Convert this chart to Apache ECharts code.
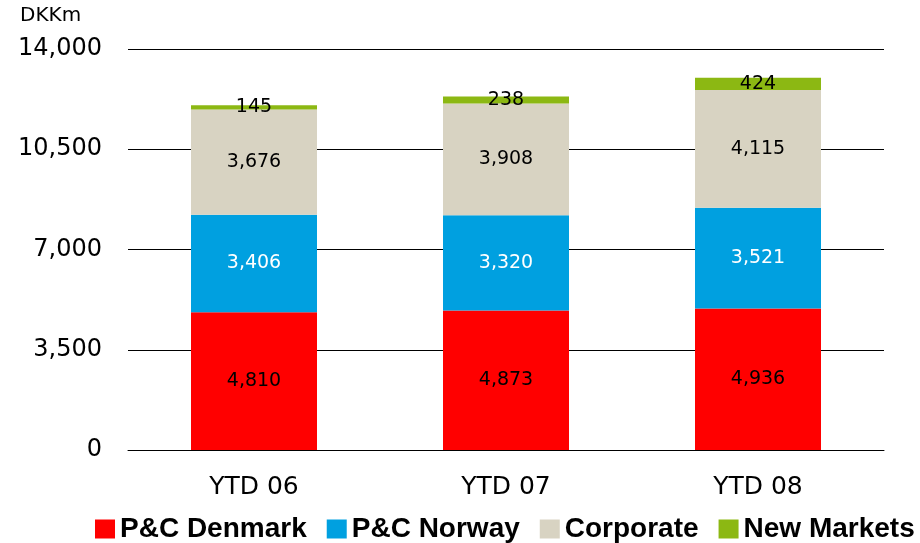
<!DOCTYPE html>
<html>
<head>
<meta charset="utf-8">
<script src="https://cdn.jsdelivr.net/npm/echarts@6/dist/echarts.min.js"></script>
<style>
  html, body { margin: 0; padding: 0; background: #fff; }
  #chart { width: 920px; height: 543px; }
</style>
</head>
<body>
<div id="chart"></div>
<script>
  // data
  var categories = ['YTD 06', 'YTD 07', 'YTD 08'];
  var pcDenmark = [4810, 4873, 4936];
  var pcNorway = [3406, 3320, 3521];
  var corporate = [3676, 3908, 4115];
  var newMarkets = [145, 238, 424];
  var yTicks = [0, 3500, 7000, 10500, 14000];

  var chart = echarts.init(document.getElementById('chart'));

  function bar(name, data, color, labelColor) {
    return {
      name: name,
      type: 'bar',
      stack: 'total',
      barWidth: '50%',
      data: data,
      itemStyle: { color: color },
      label: {
        show: true,
        position: 'inside',
        color: labelColor,
        fontFamily: 'DejaVu Sans',
        fontSize: 19,
        formatter: function (p) { return p.value.toLocaleString('en-US'); }
      }
    };
  }

  chart.setOption({
    animation: false,
    graphic: [{
      type: 'text',
      left: 20,
      top: 6,
      style: { text: 'DKKm', fontFamily: 'DejaVu Sans', fontSize: 20, fill: '#000' }
    }],
    legend: {
      top: 510,
      left: 90,
      itemWidth: 20,
      itemHeight: 19,
      itemGap: 20,
      icon: 'rect',
      textStyle: { fontFamily: 'Liberation Sans', fontWeight: 'bold', fontSize: 28, color: '#000' },
      data: ['P&C Denmark', 'P&C Norway', 'Corporate', 'New Markets']
    },
    grid: { left: 128, right: 36, top: 49, bottom: 93, containLabel: false },
    xAxis: {
      type: 'category',
      data: categories,
      axisLine: { lineStyle: { color: '#000', width: 1 } },
      axisTick: { show: false },
      axisLabel: { fontFamily: 'DejaVu Sans', fontSize: 25, color: '#000', margin: 25 }
    },
    yAxis: {
      type: 'value',
      min: yTicks[0],
      max: yTicks[yTicks.length - 1],
      interval: 3500,
      axisLine: { show: false },
      axisTick: { show: false },
      splitLine: { lineStyle: { color: '#000', width: 1 } },
      axisLabel: {
        fontFamily: 'DejaVu Sans', fontSize: 24, color: '#000', margin: 26,
        formatter: function (v) { return v.toLocaleString('en-US'); }
      }
    },
    series: [
      bar('P&C Denmark', pcDenmark, '#ff0000', '#000'),
      bar('P&C Norway', pcNorway, '#00a0e0', '#fff'),
      bar('Corporate', corporate, '#d8d3c2', '#000'),
      bar('New Markets', newMarkets, '#8cb813', '#000')
    ]
  });
</script>
</body>
</html>
